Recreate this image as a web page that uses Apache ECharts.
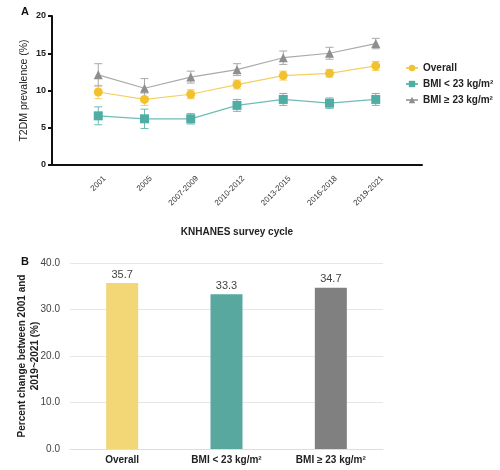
<!DOCTYPE html>
<html><head><meta charset="utf-8">
<script src="https://cdn.jsdelivr.net/npm/echarts@6/dist/echarts.min.js"></script>
<style>html,body{margin:0;padding:0;background:#fff}#c{width:500px;height:470px}</style>
</head><body><div id="c"></div>
<script>
const cycles = ['2001','2005','2007-2009','2010-2012','2013-2015','2016-2018','2019-2021'];
const axisCats = [''].concat(cycles).concat(['']);
const overall = [9.8, 8.8, 9.5, 10.8, 12.0, 12.3, 13.3];
const overallErr = [0.9, 0.8, 0.6, 0.6, 0.6, 0.5, 0.6];
const bmiLow = [6.6, 6.2, 6.2, 8.0, 8.8, 8.3, 8.8];
const bmiLowErr = [1.2, 1.3, 0.7, 0.8, 0.8, 0.7, 0.8];
const bmiHigh = [12.1, 10.3, 11.8, 12.8, 14.4, 15.0, 16.3];
const bmiHighErr = [1.5, 1.3, 0.8, 0.8, 0.9, 0.8, 0.7];
const yTicksA = [0, 5, 10, 15, 20];
const barCats = ['Overall', 'BMI < 23 kg/m²', 'BMI ≥ 23 kg/m²'];
const barVals = [35.7, 33.3, 34.7];
const yTicksB = [0, 10, 20, 30, 40];

const colOverall = '#F2C12E', colLow = '#4FADA4', colHigh = '#8E8E8E';
const lineOverall = '#F5D060', lineLow = '#6DBDB5', lineHigh = '#AAAAAA';
const barColors = ['#F3D676', '#59A8A0', '#808080'];

function pairs(vals){ return vals.map((v,i)=>[cycles[i], v]); }
function errData(vals, errs){ return vals.map((v,i)=>[cycles[i], v-errs[i], v+errs[i]]); }
function errSeries(vals, errs, color){
  return {
    type:'custom', xAxisIndex:0, yAxisIndex:0, z:1, silent:true,
    data: errData(vals, errs),
    encode:{x:0, y:[1,2]},
    renderItem:function(params, api){
      const lo = api.coord([api.value(0), api.value(1)]);
      const hi = api.coord([api.value(0), api.value(2)]);
      const w = 4;
      const st = {stroke: color, lineWidth: 1};
      return {type:'group', children:[
        {type:'line', shape:{x1:lo[0], y1:lo[1], x2:hi[0], y2:hi[1]}, style:st},
        {type:'line', shape:{x1:lo[0]-w, y1:lo[1], x2:lo[0]+w, y2:lo[1]}, style:st},
        {type:'line', shape:{x1:hi[0]-w, y1:hi[1], x2:hi[0]+w, y2:hi[1]}, style:st}
      ]};
    }
  };
}

const chart = echarts.init(document.getElementById('c'));
chart.setOption({
  animation:false,
  textStyle:{fontFamily:'Liberation Sans, Arial, sans-serif'},
  title:[
    {text:'A', left:16, top:1, textStyle:{fontSize:11, fontWeight:'bold', color:'#111'}},
    {text:'B', left:16, top:251, textStyle:{fontSize:11, fontWeight:'bold', color:'#111'}}
  ],
  legend:{
    orient:'vertical', left:400, top:58, itemGap:6, itemWidth:12, itemHeight:8,
    data:['Overall','BMI < 23 kg/m²','BMI ≥ 23 kg/m²'],
    textStyle:{fontSize:10, fontWeight:'bold', color:'#222'}
  },
  grid:[
    {left:52, top:16, width:370, height:149},
    {left:70, top:263, width:313, height:186}
  ],
  xAxis:[
    {type:'category', gridIndex:0, data:axisCats, boundaryGap:false,
     axisLine:{lineStyle:{color:'#111', width:2}}, axisTick:{show:false},
     axisLabel:{rotate:45, fontSize:8, color:'#333', margin:6, interval:0,
                verticalAlign:'top', padding:[5,0,0,0]},
     name:'KNHANES survey cycle', nameLocation:'middle', nameGap:62, nameMoveOverlap:false,
     nameTextStyle:{fontSize:10, fontWeight:'bold', color:'#222'}},
    {type:'category', gridIndex:1, data:barCats,
     axisLine:{lineStyle:{color:'#ddd'}}, axisTick:{show:false},
     axisLabel:{fontSize:10, fontWeight:'bold', color:'#222', margin:6}}
  ],
  yAxis:[
    {type:'value', gridIndex:0, min:yTicksA[0], max:yTicksA[yTicksA.length-1], interval:5,
     axisLine:{show:true, lineStyle:{color:'#111', width:2}},
     axisTick:{show:true, length:4, lineStyle:{color:'#111', width:2}},
     splitLine:{show:false},
     axisLabel:{fontSize:9, fontWeight:'bold', color:'#222', margin:6},
     name:'T2DM prevalence (%)', nameLocation:'middle', nameGap:22, nameMoveOverlap:false,
     nameTextStyle:{fontSize:10.5, color:'#222'}},
    {type:'value', gridIndex:1, min:yTicksB[0], max:yTicksB[yTicksB.length-1], interval:10,
     axisLine:{show:false}, axisTick:{show:false},
     splitLine:{lineStyle:{color:'#e6e6e6'}},
     axisLabel:{fontSize:10, color:'#444', margin:10, formatter:v=>v.toFixed(1)},
     name:'Percent change between 2001 and\n2019~2021 (%)', nameLocation:'middle', nameGap:28, nameMoveOverlap:false,
     nameTextStyle:{fontSize:10, fontWeight:'bold', color:'#222', lineHeight:13}}
  ],
  series:[
    errSeries(overall, overallErr, lineOverall),
    errSeries(bmiLow, bmiLowErr, lineLow),
    errSeries(bmiHigh, bmiHighErr, lineHigh),
    {name:'Overall', type:'line', xAxisIndex:0, yAxisIndex:0, data:pairs(overall), z:3,
     symbol:'circle', symbolSize:9, itemStyle:{color:colOverall},
     lineStyle:{color:lineOverall, width:1.2}},
    {name:'BMI < 23 kg/m²', type:'line', xAxisIndex:0, yAxisIndex:0, data:pairs(bmiLow), z:3,
     symbol:'rect', symbolSize:9, itemStyle:{color:colLow},
     lineStyle:{color:lineLow, width:1.2}},
    {name:'BMI ≥ 23 kg/m²', type:'line', xAxisIndex:0, yAxisIndex:0, data:pairs(bmiHigh), z:3,
     symbol:'triangle', symbolSize:9, itemStyle:{color:colHigh},
     lineStyle:{color:lineHigh, width:1.2}},
    {type:'bar', xAxisIndex:1, yAxisIndex:1, barWidth:32,
     data:barVals.map((v,i)=>({value:v, itemStyle:{color:barColors[i]}})),
     label:{show:true, position:'top', fontSize:11, color:'#444', distance:3, formatter:p=>p.value.toFixed(1)}}
  ]
});
</script></body></html>
